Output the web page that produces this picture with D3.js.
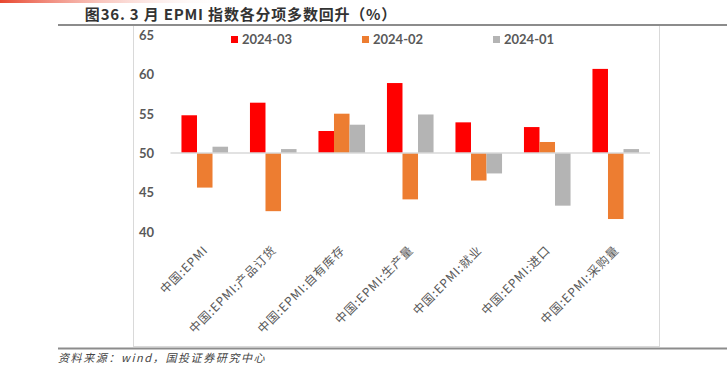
<!DOCTYPE html>
<html><head><meta charset="utf-8">
<script src="https://cdn.jsdelivr.net/npm/d3@7"></script>
<style>body{margin:0;background:#fff;}svg{display:block;}</style>
</head><body>
<script>
const categories = ["中国:EPMI","中国:EPMI:产品订货","中国:EPMI:自有库存","中国:EPMI:生产量","中国:EPMI:就业","中国:EPMI:进口","中国:EPMI:采购量"];
const seriesNames = ["2024-03","2024-02","2024-01"];
const s202403 = [54.8, 56.4, 52.8, 58.9, 53.9, 53.3, 60.7];
const s202402 = [45.6, 42.6, 55.0, 44.1, 46.5, 51.4, 41.6];
const s202401 = [50.8, 50.5, 53.6, 54.9, 47.4, 43.3, 50.5];
const yTicks = [40, 45, 50, 55, 60, 65];
const colors = ["#ff0000", "#ed7d31", "#b4b4b4"];
const seriesValues = [s202403, s202402, s202401];

const W = 727, H = 379;
const svg = d3.select("body").append("svg").attr("width", W).attr("height", H);

// top gradient strip
const defs = svg.append("defs");
const g1 = defs.append("linearGradient").attr("id","topgrad").attr("x1","0").attr("x2","1").attr("y1","0").attr("y2","0");
g1.append("stop").attr("offset","0%").attr("stop-color","#e8472f");
g1.append("stop").attr("offset","100%").attr("stop-color","#ffffff").attr("stop-opacity",0);
svg.append("rect").attr("x",0).attr("y",0).attr("width",230).attr("height",3).attr("fill","url(#topgrad)");

// title
svg.append("text").attr("x", 241).attr("y", 19.5).attr("text-anchor","middle")
  .attr("font-family","'Noto Sans CJK SC', 'Noto Sans', sans-serif").attr("font-weight","600")
  .attr("font-size", 15).attr("letter-spacing", 0.8).attr("fill","#333").text("图36. 3 月 EPMI 指数各分项多数回升（%）");

// chart frame
svg.append("rect").attr("x",133.5).attr("y",25.5).attr("width",526).attr("height",321)
  .attr("fill","none").attr("stroke","#d9d9d9").attr("stroke-width",1);

// title rule and bottom rule
svg.append("line").attr("x1",58).attr("x2",W).attr("y1",25).attr("y2",25).attr("stroke","#8c8c8c").attr("stroke-width",2);
svg.append("line").attr("x1",58).attr("x2",W).attr("y1",348.5).attr("y2",348.5).attr("stroke","#8c8c8c").attr("stroke-width",2);

// footer
svg.append("text").attr("x",58).attr("y",362).attr("font-family","'Noto Sans CJK SC', sans-serif")
  .attr("font-style","italic").attr("font-size",11).attr("letter-spacing",1.6).attr("fill","#444").text("资料来源：wind，国投证券研究中心");

// scales
const y = d3.scaleLinear().domain([40, 65]).range([231.6, 35.1]);
const x0 = d3.scaleBand().domain(categories).range([170.5, 650]).paddingInner(0.32).paddingOuter(0.16);
const x1 = d3.scaleBand().domain(seriesNames).range([0, x0.bandwidth()]);

// y axis labels
const yAxis = d3.axisLeft(y).tickValues(yTicks).tickSize(0).tickPadding(0);
const ya = svg.append("g").attr("transform","translate(154,0)").call(yAxis);
ya.select(".domain").remove();
ya.selectAll("text").attr("font-family","Lato, 'Open Sans', sans-serif").attr("font-weight","bold")
  .attr("font-size",13).attr("fill","#595959").attr("dy","0.35em");

// bars
const rows = [];
categories.forEach((c, i) => seriesNames.forEach((s, j) => rows.push({c, s, v: seriesValues[j][i], j})));
svg.append("g").selectAll("rect").data(rows).join("rect")
  .attr("x", d => x0(d.c) + x1(d.s))
  .attr("width", x1.bandwidth())
  .attr("y", d => Math.min(y(d.v), y(50)))
  .attr("height", d => Math.abs(y(d.v) - y(50)))
  .attr("fill", d => colors[d.j]);

// baseline at 50
svg.append("line").attr("x1",170.5).attr("x2",650).attr("y1",y(50)).attr("y2",y(50))
  .attr("stroke","#d9d9d9").attr("stroke-width",1.5);

// x labels
const xa = svg.append("g");
categories.forEach(c => {
  const cx = x0(c) + x0.bandwidth()/2 + 1;
  xa.append("text").attr("transform",`translate(${cx},248) rotate(-45)`)
    .attr("text-anchor","end").attr("dy","0.35em")
    .attr("font-family","'Noto Sans CJK SC', sans-serif").attr("font-size",12).attr("letter-spacing",0.9)
    .attr("fill","#595959").text(c);
});

// legend
const legX = [231, 362, 493];
seriesNames.forEach((s, j) => {
  svg.append("rect").attr("x",legX[j]).attr("y",36).attr("width",7).attr("height",7).attr("fill",colors[j]);
  svg.append("text").attr("x",legX[j]+11).attr("y",39.5).attr("dy","0.35em")
    .attr("font-family","Lato, 'Open Sans', sans-serif").attr("font-weight","bold")
    .attr("font-size",13).attr("fill","#595959").text(s);
});
</script>
</body></html>
